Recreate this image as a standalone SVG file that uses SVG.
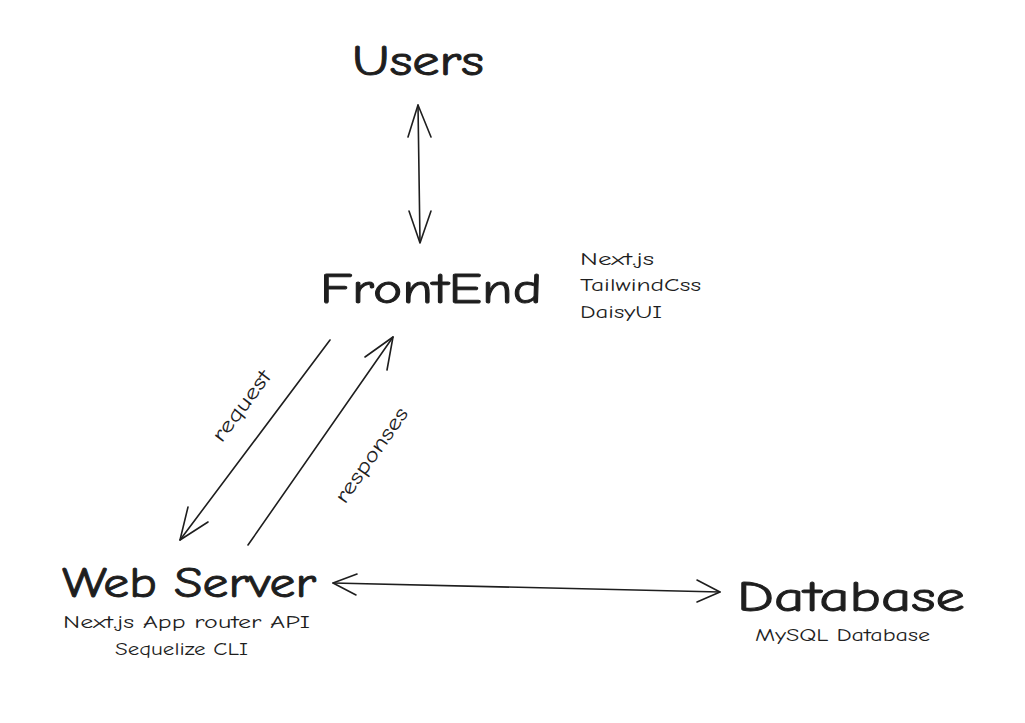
<svg xmlns="http://www.w3.org/2000/svg" width="1025" height="723" viewBox="0 0 1025 723">
<style>
.t{font-family:"Comic Neue","Noto Sans","Liberation Sans",sans-serif;fill:#1e1e1e}
.big{font-size:42px;stroke:#1e1e1e;stroke-width:0.9}
.sm{font-size:18px}
.lb{font-size:21px}
.ln{stroke:#1e1e1e;stroke-width:1.6;fill:none;stroke-linecap:round;stroke-linejoin:round}
</style>
<rect width="1025" height="723" fill="#ffffff"/>
<g id="users"><text class="t big" x="352" y="75" textLength="132" lengthAdjust="spacingAndGlyphs">Users</text></g>
<g id="frontend">
<text class="t big" x="320" y="303" textLength="222" lengthAdjust="spacingAndGlyphs">FrontEnd</text>
<text class="t sm" x="580" y="265" textLength="74" lengthAdjust="spacingAndGlyphs">Next.js</text>
<text class="t sm" x="580" y="291" textLength="121" lengthAdjust="spacingAndGlyphs">TailwindCss</text>
<text class="t sm" x="580" y="318" textLength="82" lengthAdjust="spacingAndGlyphs">DaisyUI</text>
</g>
<g id="webserver">
<text class="t big" x="62" y="597" textLength="254" lengthAdjust="spacingAndGlyphs">Web Server</text>
<text class="t sm" x="63" y="628" textLength="247" lengthAdjust="spacingAndGlyphs">Next.js App router API</text>
<text class="t sm" x="115" y="655" textLength="133" lengthAdjust="spacingAndGlyphs">Sequelize CLI</text>
</g>
<g id="database">
<text class="t big" x="737" y="611" textLength="228" lengthAdjust="spacingAndGlyphs">Database</text>
<text class="t sm" x="755" y="641" textLength="175" lengthAdjust="spacingAndGlyphs">MySQL Database</text>
</g>
<g id="connectors">
<path class="ln" d="M418 105 L420 242"/>
<path class="ln" d="M408 137 L418 105 L431 137"/>
<path class="ln" d="M409 211 L420 243 L431 211"/>
<path class="ln" d="M330 340 L180 540"/>
<path class="ln" d="M188 507 L180 540 L208 522"/>
<path class="ln" d="M248 545 L393 337"/>
<path class="ln" d="M365 357 L393 337 L387 370"/>
<path class="ln" d="M333 583 L720 592"/>
<path class="ln" d="M357 574 L333 583 L356 595"/>
<path class="ln" d="M697 580 L720 592 L697 602"/>
<text class="t lb" x="0" y="0" text-anchor="middle" textLength="84" lengthAdjust="spacingAndGlyphs" transform="translate(247,410) rotate(-53)">request</text>
<text class="t lb" x="0" y="0" text-anchor="middle" textLength="112" lengthAdjust="spacingAndGlyphs" transform="translate(377,459) rotate(-55)">responses</text>
</g>
</svg>
